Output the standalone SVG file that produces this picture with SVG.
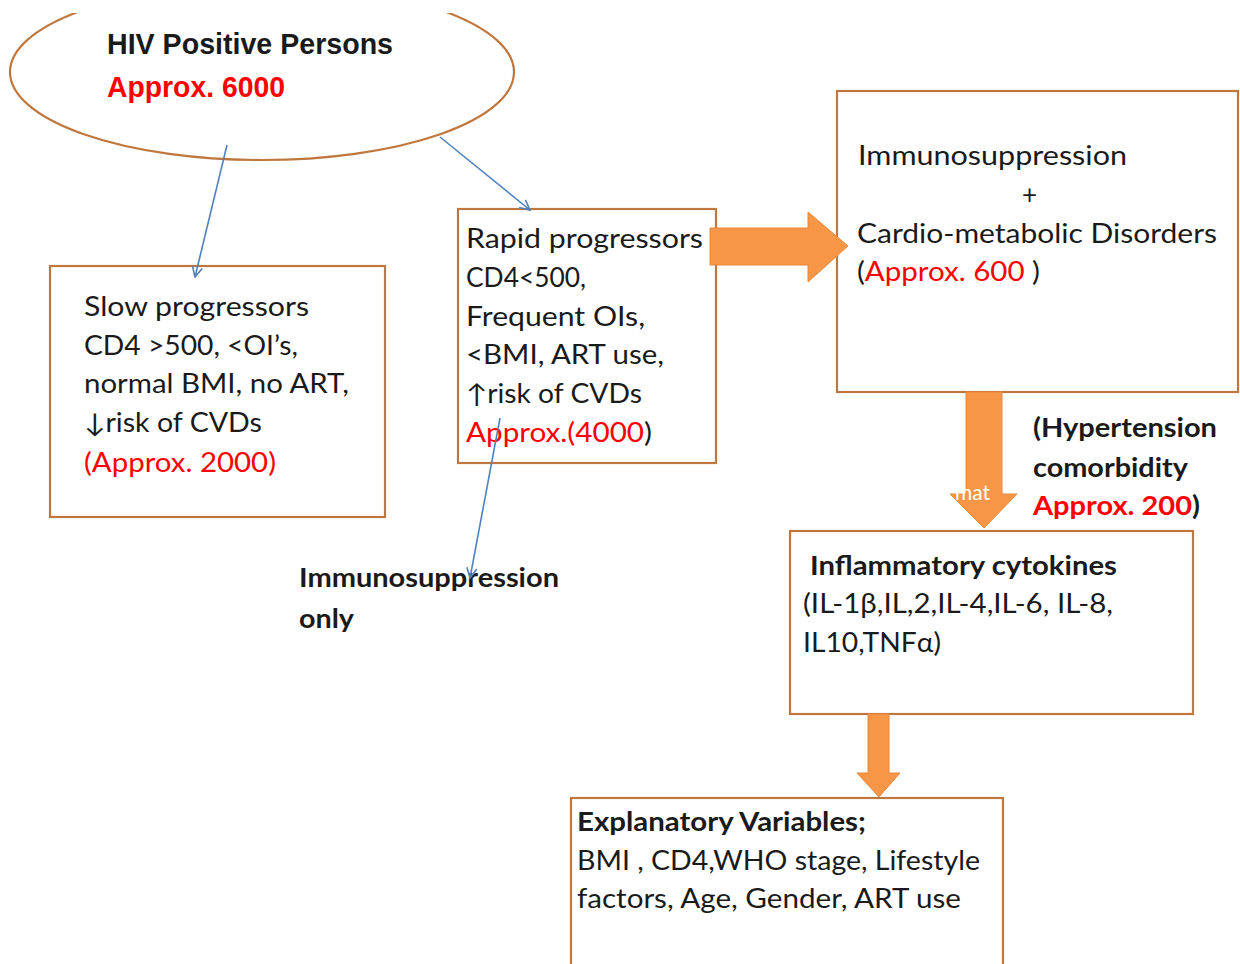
<svg xmlns="http://www.w3.org/2000/svg" width="1240" height="964" viewBox="0 0 1240 964">
<style>
.box{fill:#fff;stroke:#c0773d;stroke-width:2.2}
.t{font-family:Lato,"Liberation Sans",sans-serif;font-size:26px;fill:#1a1a1a}
.b{font-weight:bold}
.n{font-family:"Liberation Sans Narrow","Liberation Sans",sans-serif;font-weight:bold;font-size:30px;fill:#1a1a1a}
.red{fill:#ff0000}
.blue{stroke:#4f81bd;stroke-width:1.6;fill:none}
.org{fill:#f79646;stroke:#e8883c;stroke-width:1}
</style>
<defs>
<marker id="ah" viewBox="0 0 12 12" refX="11" refY="6" markerWidth="12" markerHeight="12" markerUnits="userSpaceOnUse" orient="auto">
<path d="M1,1 L11,6 L1,11" fill="none" stroke="#4f81bd" stroke-width="1.6"/>
</marker>
<clipPath id="top"><rect x="0" y="13" width="1240" height="951"/></clipPath>
</defs>
<rect width="1240" height="964" fill="#fff"/>
<g id="hiv" clip-path="url(#top)">
<ellipse cx="262" cy="72" rx="252" ry="88" fill="#fff" stroke="#c0773d" stroke-width="2.2"/>
<text class="n" x="107" y="54" textLength="286" lengthAdjust="spacingAndGlyphs">HIV Positive Persons</text>
<text class="n red" x="107" y="97" textLength="178" lengthAdjust="spacingAndGlyphs">Approx. 6000</text>
</g>
<g id="slow">
<rect class="box" x="50" y="266" width="335" height="251"/>
<text class="t" x="84" y="316" textLength="225" lengthAdjust="spacingAndGlyphs">Slow progressors</text>
<text class="t" x="84" y="355" textLength="214" lengthAdjust="spacingAndGlyphs">CD4 &gt;500, &lt;OI’s,</text>
<text class="t" x="84" y="393" textLength="265" lengthAdjust="spacingAndGlyphs">normal BMI, no ART,</text>
<text class="t" x="84" y="432" textLength="178" lengthAdjust="spacingAndGlyphs">↓risk of CVDs</text>
<text class="t red" x="84" y="472" textLength="192" lengthAdjust="spacingAndGlyphs">(Approx. 2000)</text>
</g>
<g id="rapid">
<rect class="box" x="458" y="209" width="258" height="254"/>
<text class="t" x="466" y="248" textLength="237" lengthAdjust="spacingAndGlyphs">Rapid progressors</text>
<text class="t" x="466" y="287" textLength="120" lengthAdjust="spacingAndGlyphs">CD4&lt;500,</text>
<text class="t" x="466" y="326" textLength="179" lengthAdjust="spacingAndGlyphs">Frequent OIs,</text>
<text class="t" x="466" y="364" textLength="198" lengthAdjust="spacingAndGlyphs">&lt;BMI, ART use,</text>
<text class="t" x="466" y="403" textLength="176" lengthAdjust="spacingAndGlyphs">↑risk of CVDs</text>
<text class="t" x="466" y="442" textLength="186" lengthAdjust="spacingAndGlyphs"><tspan class="red">Approx.(4000</tspan>)</text>
</g>
<g id="immcardio">
<rect class="box" x="837" y="91" width="401" height="301"/>
<text class="t" x="858" y="165" textLength="269" lengthAdjust="spacingAndGlyphs">Immunosuppression</text>
<text class="t" x="1022" y="204">+</text>
<text class="t" x="857" y="243" textLength="360" lengthAdjust="spacingAndGlyphs">Cardio-metabolic Disorders</text>
<text class="t" x="857" y="281" textLength="183" lengthAdjust="spacingAndGlyphs">(<tspan class="red">Approx. 600 </tspan>)</text>
</g>
<g id="hyper">
<text class="t b" x="1033" y="437" textLength="184" lengthAdjust="spacingAndGlyphs">(Hypertension</text>
<text class="t b" x="1033" y="477" textLength="155" lengthAdjust="spacingAndGlyphs">comorbidity</text>
<text class="t b" x="1033" y="515" textLength="167" lengthAdjust="spacingAndGlyphs"><tspan class="red">Approx. 200</tspan>)</text>
</g>
<g id="inflam">
<rect class="box" x="790" y="531" width="403" height="183"/>
<text class="t b" x="810" y="575" textLength="307" lengthAdjust="spacingAndGlyphs">Inflammatory cytokines</text>
<text class="t" x="803" y="613" textLength="310" lengthAdjust="spacingAndGlyphs">(IL-1β,IL,2,IL-4,IL-6, IL-8,</text>
<text class="t" x="803" y="652" textLength="138" lengthAdjust="spacingAndGlyphs">IL10,TNFα)</text>
</g>
<g id="immonly">
<text class="t b" x="299" y="587" textLength="260" lengthAdjust="spacingAndGlyphs">Immunosuppression</text>
<text class="t b" x="299" y="628" textLength="55" lengthAdjust="spacingAndGlyphs">only</text>
</g>
<g id="explan">
<rect class="box" x="571" y="798" width="432" height="180"/>
<text class="t b" x="577" y="831" textLength="289" lengthAdjust="spacingAndGlyphs">Explanatory Variables;</text>
<text class="t" x="577" y="870" textLength="403" lengthAdjust="spacingAndGlyphs">BMI , CD4,WHO stage, Lifestyle</text>
<text class="t" x="577" y="908" textLength="384" lengthAdjust="spacingAndGlyphs">factors, Age, Gender, ART use</text>
</g>
<g id="connectors">
<line class="blue" x1="227" y1="145" x2="195" y2="277" marker-end="url(#ah)"/>
<line class="blue" x1="440" y1="137" x2="530" y2="210" marker-end="url(#ah)"/>
<line class="blue" x1="500" y1="418" x2="470" y2="578" marker-end="url(#ah)"/>
<path class="org" d="M710,228 L808,228 L808,212 L848,246 L808,282 L808,265 L710,265 Z"/>
<path class="org" d="M966,392 L1002,392 L1002,494 L1017,494 L984,528 L950,494 L966,494 Z"/>
<text x="955" y="500" font-family="Lato,'Liberation Sans',sans-serif" font-size="21" fill="#fff">mat</text>
<path class="org" d="M868,714 L889,714 L889,773 L900,773 L879,797 L857,773 L868,773 Z"/>
</g>
</svg>
